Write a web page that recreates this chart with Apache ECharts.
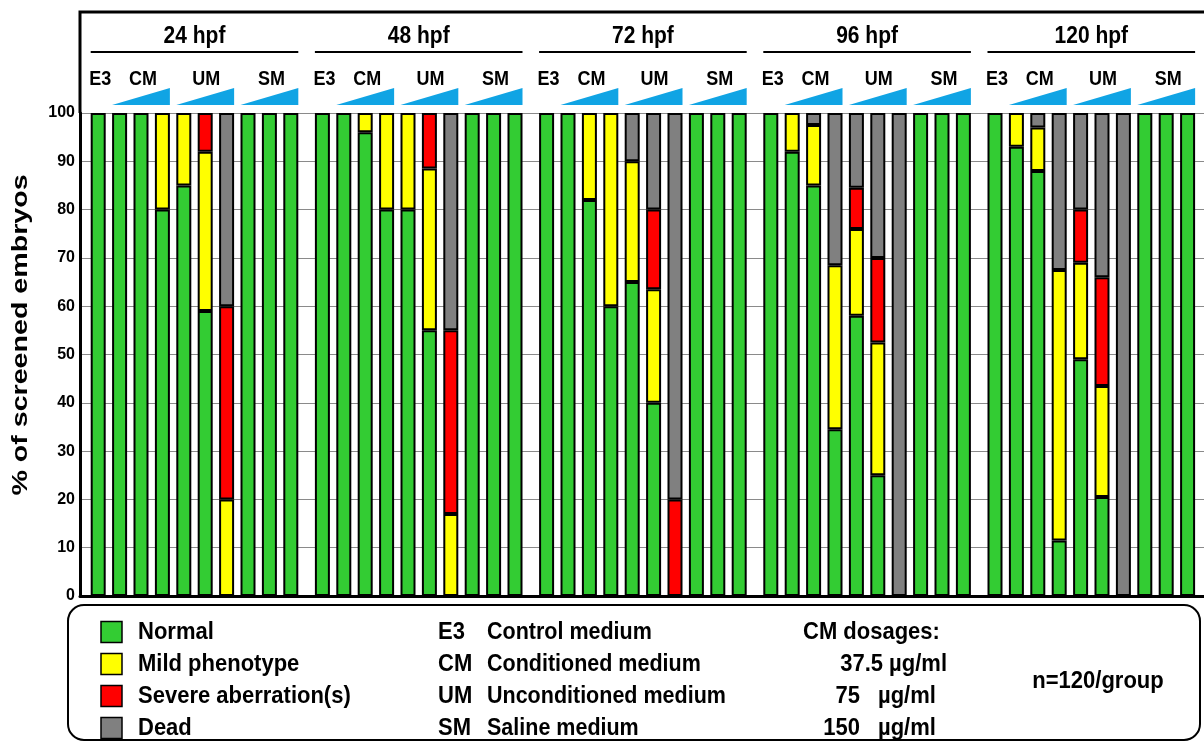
<!DOCTYPE html>
<html><head><meta charset="utf-8">
<script src="https://cdn.jsdelivr.net/npm/echarts@6/dist/echarts.min.js"></script>
<style>html,body{margin:0;padding:0;background:#fff}#c{width:1204px;height:742px}</style>
</head><body><div id="c"></div>
<script>
// ---- data ----
const groups = ['24 hpf', '48 hpf', '72 hpf', '96 hpf', '120 hpf'];
const conditions = ['E3', 'CM 37.5', 'CM 75', 'CM 150', 'UM 1', 'UM 2', 'UM 3', 'SM 1', 'SM 2', 'SM 3'];
const statusNames = ['Normal', 'Mild phenotype', 'Severe aberration(s)', 'Dead'];
// values per bar (% of screened embryos), 10 bars per time point
const normal = [
  100, 100, 100, 80, 85, 59, 0, 100, 100, 100,
  100, 100, 96, 80, 80, 55, 0, 100, 100, 100,
  100, 100, 82, 60, 65, 40, 0, 100, 100, 100,
  100, 92, 85, 34.5, 58, 25, 0, 100, 100, 100,
  100, 93, 88, 11.5, 49, 20.5, 0, 100, 100, 100
];
const mild = [
  0, 0, 0, 20, 15, 33, 20, 0, 0, 0,
  0, 0, 4, 20, 20, 33.5, 17, 0, 0, 0,
  0, 0, 18, 40, 25, 23.5, 0, 0, 0, 0,
  0, 8, 12.5, 34, 18, 27.5, 0, 0, 0, 0,
  0, 7, 9, 56, 20, 23, 0, 0, 0, 0
];
const severe = [
  0, 0, 0, 0, 0, 8, 40, 0, 0, 0,
  0, 0, 0, 0, 0, 11.5, 38, 0, 0, 0,
  0, 0, 0, 0, 0, 16.5, 20, 0, 0, 0,
  0, 0, 0, 0, 8.5, 17.5, 0, 0, 0, 0,
  0, 0, 0, 0, 11, 22.5, 0, 0, 0, 0
];
const dead = [
  0, 0, 0, 0, 0, 0, 40, 0, 0, 0,
  0, 0, 0, 0, 0, 0, 45, 0, 0, 0,
  0, 0, 0, 0, 10, 20, 80, 0, 0, 0,
  0, 0, 2.5, 31.5, 15.5, 30, 100, 0, 0, 0,
  0, 0, 3, 32.5, 20, 34, 100, 0, 0, 0
];
const yTicks = [0, 10, 20, 30, 40, 50, 60, 70, 80, 90, 100];
const yTitle = '% of screened embryos';
const mediumCodes = ['E3', 'CM', 'UM', 'SM'];
const mediumNames = ['Control medium', 'Conditioned medium', 'Unconditioned medium', 'Saline medium'];
const doseValues = ['37.5', '75', '150'];
const doseUnit = 'µg/ml';
const nText = 'n=120/group';

// ---- styles ----
const colors = ['#33cc33', '#ffff00', '#ff0000', '#808080'];
const FONT = '"Liberation Sans", Arial, sans-serif';
const seriesValues = [normal, mild, severe, dead];

const plotTop = 113, plotH = 483;
const groupLeft0 = 87.5, groupPitch = 224.2, groupW = 214;

const grid = [{ left: 80, top: plotTop, width: 1124, height: plotH }];
const xAxis = [{
  gridIndex: 0, type: 'value', min: 0, max: 1,
  axisLine: { show: true, lineStyle: { color: '#000', width: 3 } },
  axisTick: { show: false }, axisLabel: { show: false }, splitLine: { show: false }
}];
const yAxis = [{
  gridIndex: 0, type: 'value', min: yTicks[0], max: yTicks[yTicks.length - 1], interval: 10,
  axisLine: { show: true, lineStyle: { color: '#000', width: 3 } },
  axisTick: { show: false },
  axisLabel: { fontFamily: FONT, fontWeight: 'bold', fontSize: 16, color: '#000', margin: 5 },
  splitLine: { show: true, lineStyle: { color: '#8a8a8a', width: 1 } }
}];
const series = [];
groups.forEach((g, gi) => {
  grid.push({ left: groupLeft0 + gi * groupPitch, top: plotTop, width: groupW, height: plotH });
  xAxis.push({ gridIndex: gi + 1, type: 'category', data: conditions, show: false });
  yAxis.push({ gridIndex: gi + 1, type: 'value', min: 0, max: 100, show: false });
  seriesValues.forEach((arr, si) => {
    series.push({
      type: 'bar', name: statusNames[si], stack: 'g' + gi,
      xAxisIndex: gi + 1, yAxisIndex: gi + 1, barWidth: 15,
      itemStyle: { color: colors[si], borderColor: '#000', borderWidth: 2 },
      emphasis: { disabled: true },
      data: arr.slice(gi * 10, gi * 10 + 10).map(v => v === 0 ? '-' : v)
    });
  });
});

const chart = echarts.init(document.getElementById('c'), null, { renderer: 'canvas' });
chart.setOption({
  animation: false, backgroundColor: '#fff',
  grid, xAxis, yAxis, series
});

// ---- header & legend decorations ----
const gfx = [];
const txt = (x, y, text, size, align, extra) => Object.assign({
  type: 'text', x, y, silent: true,
  style: { text, fontFamily: FONT, fontWeight: 'bold', fontSize: size, fill: '#000', align: align || 'center', verticalAlign: 'middle' }
}, extra || {});

// y axis title (rotated, stretched like the reference)
gfx.push(txt(21, 335, yTitle, 22, 'center', { rotation: Math.PI / 2, scaleX: 1.3 }));

// frame: left line up to top, top line
gfx.push({ type: 'polyline', silent: true, shape: { points: [[80, plotTop], [80, 12], [1204, 12]] }, style: { stroke: '#000', lineWidth: 3, fill: null } });

const half = 7.5;
groups.forEach((g, gi) => {
  const xi = gi + 1;
  const px = i => chart.convertToPixel({ xAxisIndex: xi }, i);
  const left = px(0) - half, right = px(9) + half;
  gfx.push(txt((left + right) / 2, 37, g, 21, 'center', { scaleY: 1.1 }));
  gfx.push({ type: 'line', silent: true, shape: { x1: left, y1: 52, x2: right, y2: 52 }, style: { stroke: '#000', lineWidth: 2 } });
  gfx.push(txt(px(0) + 2, 80, 'E3', 18, 'center', { scaleY: 1.1 }));
  gfx.push(txt(px(2) + 2, 80, 'CM', 18, 'center', { scaleY: 1.1 }));
  gfx.push(txt(px(5) + 1, 80, 'UM', 18, 'center', { scaleY: 1.1 }));
  gfx.push(txt(px(8) + 2, 80, 'SM', 18, 'center', { scaleY: 1.1 }));
  [[1, 3], [4, 6], [7, 9]].forEach(([a, b]) => {
    gfx.push({ type: 'polygon', silent: true,
      shape: { points: [[px(a) - half, 105], [px(b) + half, 105], [px(b) + half, 88]] },
      style: { fill: '#10a4e4' } });
  });
});

// legend box
gfx.push({ type: 'rect', silent: true, shape: { x: 68, y: 605, width: 1132, height: 135, r: 16 }, style: { fill: null, stroke: '#000', lineWidth: 2 } });
const rowY = [632, 664, 696, 728];
const LS = { scaleY: 1.12 };
statusNames.forEach((n, i) => {
  gfx.push({ type: 'rect', silent: true, shape: { x: 101, y: rowY[i] - 10.5, width: 21, height: 21 }, style: { fill: colors[i], stroke: '#000', lineWidth: 1.5 } });
  gfx.push(txt(138, rowY[i], n, 22, 'left', LS));
});
mediumCodes.forEach((c, i) => {
  gfx.push(txt(438, rowY[i], c, 22, 'left', LS));
  gfx.push(txt(487, rowY[i], mediumNames[i], 21.5, 'left', LS));
});
gfx.push(txt(803, rowY[0], 'CM dosages:', 22, 'left', LS));
gfx.push(txt(947, rowY[1], doseValues[0] + ' ' + doseUnit, 22, 'right', LS));
gfx.push(txt(860, rowY[2], doseValues[1], 22, 'right', LS));
gfx.push(txt(878, rowY[2], doseUnit, 22, 'left', LS));
gfx.push(txt(860, rowY[3], doseValues[2], 22, 'right', LS));
gfx.push(txt(878, rowY[3], doseUnit, 22, 'left', LS));
gfx.push(txt(1098, 681, nText, 22, 'center', LS));

chart.setOption({ graphic: gfx });
</script>
</body></html>
